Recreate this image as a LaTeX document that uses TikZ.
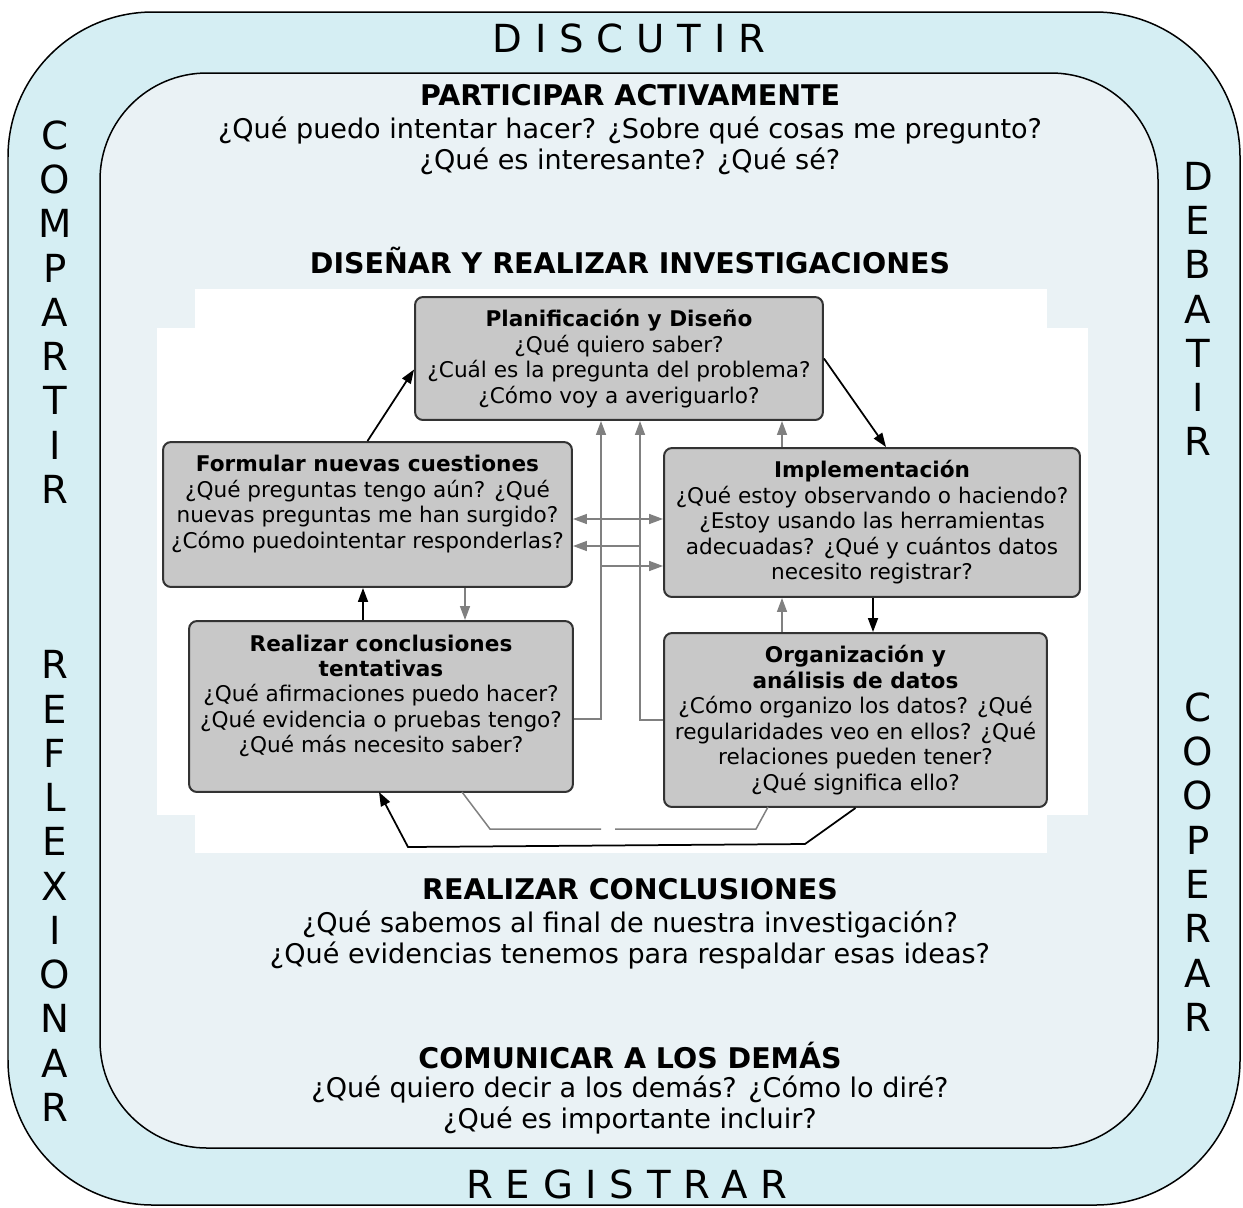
\documentclass[tikz,border=0pt]{standalone}
\usepackage{fontspec}
\setmainfont{DejaVu Sans}
\newfontfamily\spacedfont[LetterSpace=33]{DejaVu Sans}
\usepackage{tikz}
\usetikzlibrary{arrows.meta, positioning, calc}
\definecolor{outerblue}{RGB}{213,238,243}
\definecolor{innerblue}{RGB}{234,242,245}
\definecolor{boxgray}{RGB}{200,200,200}
\definecolor{linegray}{RGB}{128,128,128}
\tikzstyle{stage} = [rectangle, rounded corners=0.16cm, draw=black!80, line width=0.04cm, fill=boxgray, align=center, inner sep=0pt, font=\fontsize{12.3}{14.5}\selectfont]
\tikzstyle{arrow} = [line width=0.035cm, -{Triangle[length=0.28cm,width=0.2cm]}]
\tikzstyle{grayarrow} = [arrow, draw=linegray, line width=0.03cm]
\tikzstyle{grayline} = [draw=linegray, line width=0.03cm]
\tikzstyle{heading} = [font=\bfseries\fontsize{16.2}{18}\selectfont]
\tikzstyle{question} = [align=center, font=\fontsize{15.4}{17.6}\selectfont]
\tikzstyle{sideword} = [align=center, inner sep=0pt, font=\fontsize{22}{25.2}\selectfont]
\tikzstyle{edgeword} = [inner sep=0pt, font=\spacedfont\fontsize{22}{25}\selectfont]

\begin{document}
\begin{tikzpicture}[x=0.02cm, y=-0.02cm]
        \useasboundingbox (0,0) rectangle (1243,1207);
        % frames
        \draw[fill=outerblue, line width=0.03cm, rounded corners=2.9cm] (8,12) rectangle (1240,1205);
        \draw[fill=innerblue, line width=0.03cm, rounded corners=2.14cm] (100,73) rectangle (1158,1148);
        \fill[white] (195,289) rectangle (1047,853);
        \fill[white] (157,328) rectangle (1088,815);

        % words round the frame
        \node (discutir) [edgeword] at (629,38) {DISCUTIR};
        \node (registrar) [edgeword] at (627,1184) {REGISTRAR};
        \node (compartir) [sideword] at (55,312) {C\\O\\M\\P\\A\\R\\T\\I\\R};
        \node (reflexionar) [sideword] at (55,886) {R\\E\\F\\L\\E\\X\\I\\O\\N\\A\\R};
        \node (debatir) [sideword] at (1198,309) {D\\E\\B\\A\\T\\I\\R};
        \node (cooperar) [sideword] at (1198,862) {C\\O\\O\\P\\E\\R\\A\\R};

        % headings and questions
        \node (participar) [heading] at (630,95) {PARTICIPAR ACTIVAMENTE};
        \node (participarq) [question] at (630,146) {¿Qué puedo intentar hacer? ¿Sobre qué cosas me pregunto?\\¿Qué es interesante? ¿Qué sé?};
        \node (disenar) [heading] at (630,260) {DISEÑAR Y REALIZAR INVESTIGACIONES};
        \node (concluir) [heading] at (630,889) {REALIZAR CONCLUSIONES};
        \node (concluirq) [question] at (630,940) {¿Qué sabemos al final de nuestra investigación?\\¿Qué evidencias tenemos para respaldar esas ideas?};
        \node (comunicar) [heading] at (630,1055) {COMUNICAR A LOS DEMÁS};
        \node (comunicarq) [question] at (630,1105) {¿Qué quiero decir a los demás? ¿Cómo lo diré?\\¿Qué es importante incluir?};

        % stages
        \node (plan) [stage, minimum width=8.16cm, minimum height=2.46cm] at (619,358.5) {\textbf{Planificación y Diseño}\\¿Qué quiero saber?\\¿Cuál es la pregunta del problema?\\¿Cómo voy a averiguarlo?};
        \node (form) [stage, minimum width=8.18cm, minimum height=2.9cm] at (367.5,514.5) {\textbf{Formular nuevas cuestiones}\\¿Qué preguntas tengo aún? ¿Qué\\nuevas preguntas me han surgido?\\¿Cómo puedointentar responderlas?\\\mbox{}};
        \node (impl) [stage, minimum width=8.32cm, minimum height=2.98cm] at (872,522.5) {\textbf{Implementación}\\¿Qué estoy observando o haciendo?\\¿Estoy usando las herramientas\\adecuadas? ¿Qué y cuántos datos\\necesito registrar?};
        \node (real) [stage, minimum width=7.68cm, minimum height=3.42cm] at (381,706.5) {\textbf{Realizar conclusiones}\\\textbf{tentativas}\\¿Qué afirmaciones puedo hacer?\\¿Qué evidencia o pruebas tengo?\\¿Qué más necesito saber?\\\mbox{}};
        \node (org) [stage, minimum width=7.66cm, minimum height=3.48cm] at (855.5,720) {\textbf{Organización y}\\\textbf{análisis de datos}\\¿Cómo organizo los datos? ¿Qué\\regularidades veo en ellos? ¿Qué\\relaciones pueden tener?\\¿Qué significa ello?};

        % columns for the connectors
        \coordinate (colA) at (601,0);
        \coordinate (colB) at (640,0);
        \coordinate (colC) at (782,0);
        \coordinate (colD) at (363,0);
        \coordinate (colE) at (465,0);
        \coordinate (colF) at (873,0);
        \coordinate (brA) at (601,566);
        \coordinate (brB) at (640,546);
        \coordinate (dbl) at (620,519);

        % main cycle
        \draw [arrow] (form.north) -- ([yshift=-0.22cm]plan.west);
        \draw [arrow] (plan.east) -- ([xshift=0.28cm]impl.north);
        \draw [arrow] (colF |- impl.south) -- (colF |- org.north);
        \draw [arrow] (org.south) -- (805,844) -- (408,847) -- (379,792);
        \draw [arrow] (colD |- real.north) -- (colD |- form.south);

        % feedback
        \draw [grayarrow] (colC |- impl.north) -- (colC |- plan.south);
        \draw [grayarrow] (colC |- org.north) -- (colC |- impl.south);
        \draw [grayarrow] (colE |- form.south) -- (colE |- real.north);
        \draw [grayarrow] ([yshift=-0.25cm]real.east) -| (colA |- plan.south);
        \draw [grayarrow] (brA) -- (brA -| impl.west);
        \draw [grayarrow] (org.west) -| (colB |- plan.south);
        \draw [grayarrow] (brB) -- (brB -| form.east);
        \draw [grayarrow, {Triangle[length=0.28cm,width=0.2cm]}-{Triangle[length=0.28cm,width=0.2cm]}] (dbl -| form.east) -- (dbl -| impl.west);
        \draw [grayline] (768,807) -- (756,829) -- (615,829);
        \draw [grayline] (601,829) -- (490,829) -- (462,792);

\end{tikzpicture}
\end{document}
